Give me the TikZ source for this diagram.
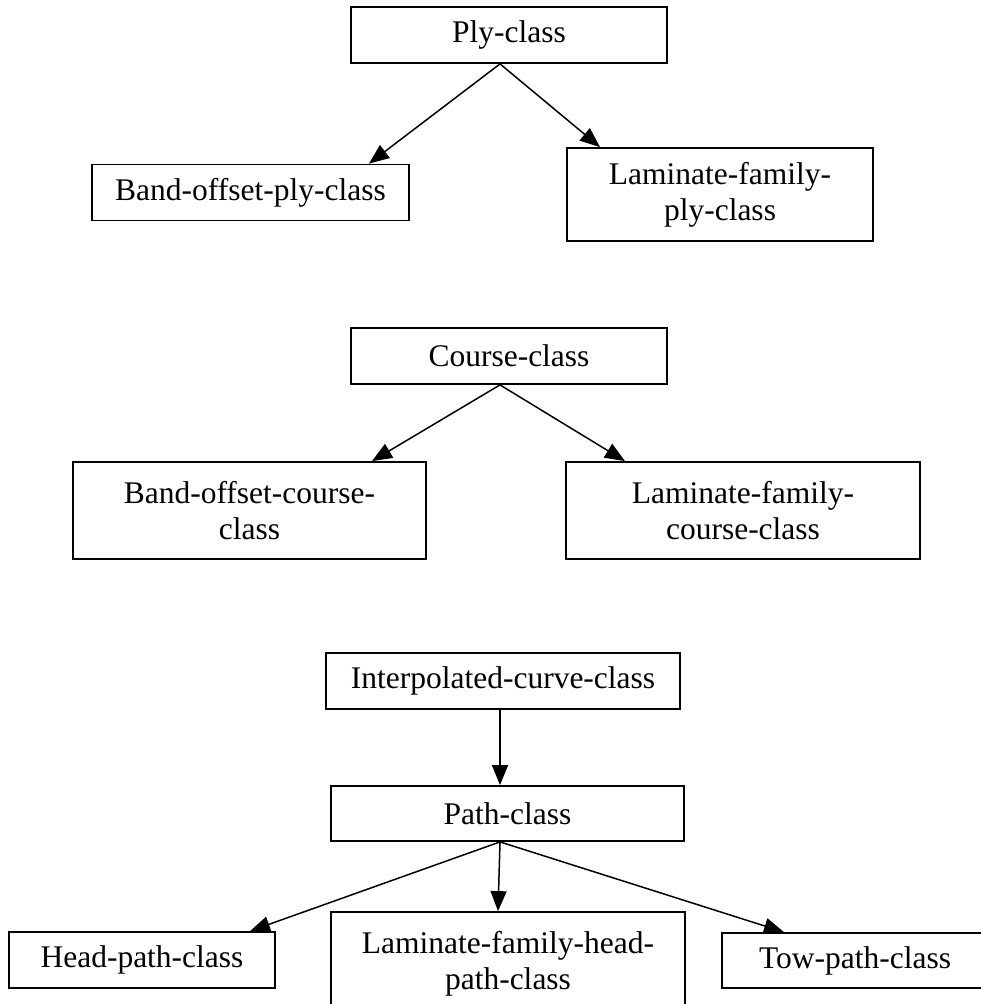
\documentclass[tikz,border=0pt]{standalone}
\usepackage{fontspec}
\setmainfont{Liberation Serif}
\usetikzlibrary{arrows.meta, positioning}

\begin{document}
\begin{tikzpicture}[
    x=1pt, y=-1pt,
    classbox/.style={rectangle, draw=black, line width=1.8pt, fill=white,
                 minimum height=56pt, align=center, inner sep=0pt,
                 font=\fontsize{31.5}{36}\selectfont},
    tallbox/.style={classbox, minimum height=97pt},
    inh/.style={-{Triangle[length=20pt, width=16pt]}, line width=1.5pt},
  ]
    \fill[white] (0,0) rectangle (981,1004);
    \useasboundingbox (0,0) rectangle (981,1004);
    \clip (0,0) rectangle (981,1004);

    % ply hierarchy
    \node[classbox, minimum width=316pt] (ply) at (509,35) {Ply-class};
    \node[classbox, minimum width=317pt] (bopc) at (250.5,192.5) {Band-offset-ply-class};
    \node[classbox, minimum width=306pt, minimum height=93pt] (lfpc) at (720,194.5) {Laminate-family-\\ply-class};

    \draw[inh] ([xshift=-9pt]ply.south) -- ([xshift=118.5pt]bopc.north);
    \draw[inh] ([xshift=-9pt]ply.south) -- ([xshift=-120pt]lfpc.north);

    % course hierarchy
    \node[classbox, minimum width=316pt] (course) at (509,356) {Course-class};
    \node[tallbox, minimum width=353pt] (bocc) at (249.5,510.5) {Band-offset-course-\\class};
    \node[tallbox, minimum width=354pt] (lfcc) at (743,510.5) {Laminate-family-\\course-class};

    \draw[inh] ([xshift=-9pt]course.south) -- ([xshift=122.5pt]bocc.north);
    \draw[inh] ([xshift=-9pt]course.south) -- ([xshift=-118pt]lfcc.north);

    % path hierarchy
    \node[classbox, minimum width=354pt] (interp) at (503,681) {Interpolated-curve-class};
    \node[classbox, minimum width=353pt, minimum height=55pt] (path) at (507.5,813.5) {Path-class};
    \node[classbox, minimum width=266pt] (headp) at (142,960) {Head-path-class};
    \node[tallbox, minimum width=354pt, minimum height=104pt] (lfhp) at (508,964) {Laminate-family-head-\\path-class};
    \node[classbox, minimum width=266pt, minimum height=55pt] (towp) at (855,960.5) {Tow-path-class};

    \draw[inh] ([xshift=-3pt]interp.south) -- ([xshift=-7.5pt]path.north);
    \draw[inh] ([xshift=-7.5pt]path.south) -- ([xshift=108pt]headp.north);
    \draw[inh] ([xshift=-7.5pt]path.south) -- ([xshift=-10pt]lfhp.north);
    \draw[inh] ([xshift=-7.5pt]path.south) -- ([xshift=-71pt]towp.north);
\end{tikzpicture}
\end{document}
